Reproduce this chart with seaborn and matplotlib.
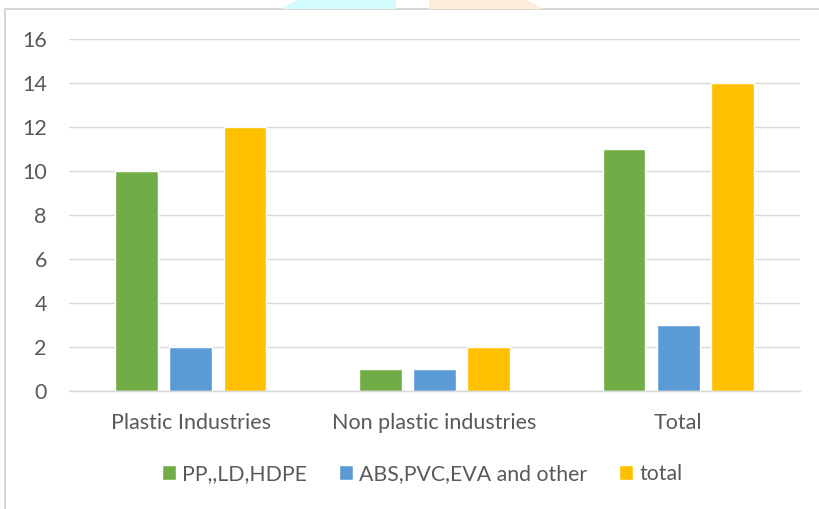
import matplotlib

matplotlib.use("Agg")

import matplotlib.pyplot as plt
import pandas as pd
import seaborn as sns
from matplotlib.patches import Polygon, Rectangle

categories = ["Plastic Industries", "Non plastic industries", "Total"]
series_names = ["PP,,LD,HDPE", "ABS,PVC,EVA and other", "total"]
pp_ld_hdpe = [10, 1, 11]
abs_pvc_eva = [2, 1, 3]
total = [12, 2, 14]
y_ticks = [0, 2, 4, 6, 8, 10, 12, 14, 16]

colors = ["#70AD47", "#5B9BD5", "#FFC000"]
text_color = "#595959"

df = pd.DataFrame({
    "category": categories * 3,
    "series": [series_names[0]] * 3 + [series_names[1]] * 3 + [series_names[2]] * 3,
    "value": pp_ld_hdpe + abs_pvc_eva + total,
})

sns.set_theme(style="white")
plt.rcParams["font.family"] = ["Lato", "DejaVu Sans"]

W, H = 819, 509
fig = plt.figure(figsize=(W / 100, H / 100), dpi=100)
ax = fig.add_axes([69 / W, 1 - 391 / H, 731 / W, 352 / H])

sns.barplot(
    data=df, x="category", y="value", hue="series",
    palette=colors, width=0.665, gap=0.21, saturation=1,
    order=categories, hue_order=series_names, ax=ax,
)

ax.set_ylim(0, 16)
ax.set_yticks(y_ticks)
ax.set_xlim(-0.5, 2.5)
ax.yaxis.grid(True, color="#D9D9D9", linewidth=1)
ax.set_axisbelow(True)
for side in ["top", "right", "left"]:
    ax.spines[side].set_visible(False)
ax.spines["bottom"].set_color("#D9D9D9")
ax.spines["bottom"].set_linewidth(1)
ax.tick_params(axis="both", length=0, labelsize=15.5, labelcolor=text_color)
ax.tick_params(axis="y", pad=16)
ax.tick_params(axis="x", pad=16)
ax.set_xlabel("")
ax.set_ylabel("")

ax.legend(
    loc="center", bbox_to_anchor=(422 / W, 1 - 474 / H),
    bbox_transform=fig.transFigure, ncol=3, frameon=False,
    fontsize=15.3, labelcolor=text_color, handlelength=0.65, handleheight=0.65,
    handletextpad=0.3, columnspacing=1.5,
)

# chart frame and the clipped page decorations above it
fig.patches.append(Rectangle(
    (5 / W, -0.1), 1.2, 1 - 9 / H + 0.1, transform=fig.transFigure,
    fill=False, edgecolor="#D0D0D0", linewidth=1.2,
))
fig.patches.append(Polygon(
    [(281 / W, 1 - 9 / H), (297 / W, 1.0), (396 / W, 1.0), (396 / W, 1 - 9 / H)],
    transform=fig.transFigure, facecolor="#D2FCFD", edgecolor="none",
))
fig.patches.append(Polygon(
    [(429 / W, 1 - 9 / H), (429 / W, 1.0), (527 / W, 1.0), (543 / W, 1 - 9 / H)],
    transform=fig.transFigure, facecolor="#FFEDDB", edgecolor="none",
))

fig.savefig("out.png", dpi=100)
